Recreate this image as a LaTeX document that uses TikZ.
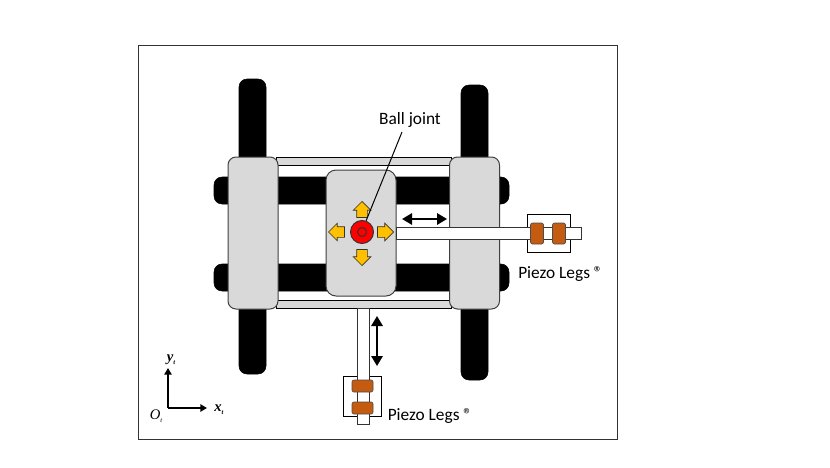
\documentclass[tikz,border=0pt]{standalone}
\usepackage{fontspec}
\setmainfont{Carlito}
\newfontfamily\axisfont{Liberation Serif}
\usetikzlibrary{arrows.meta,shapes.arrows}
\newlength\px
\setlength\px{0.75pt}
\definecolor{blockgrey}{HTML}{D9D9D9}
\definecolor{legorange}{HTML}{C55A11}
\definecolor{pushyellow}{HTML}{FFC000}

\begin{document}
\begin{tikzpicture}[x=0.75pt,y=-0.75pt,
  frame/.style={draw=black!80,line width=0.75pt,fill=white,inner sep=0pt},
  blackbar/.style={draw=black,fill=black,rounded corners=8\px,inner sep=0pt},
  rail/.style={draw=black,line width=0.75pt,fill=blockgrey,inner sep=0pt},
  block/.style={draw=black!75,line width=0.75pt,fill=blockgrey,rounded corners=8\px,inner sep=0pt},
  rod/.style={draw=black!80,line width=0.75pt,fill=white,inner sep=0pt},
  legbox/.style={draw=black,line width=0.75pt,fill=white,inner sep=0pt},
  leg/.style={draw=black!70,line width=0.5pt,fill=legorange,rounded corners=2\px,inner sep=0pt},
  push/.style={single arrow,draw=black!80,line width=0.5pt,fill=pushyellow,inner xsep=0pt,inner ysep=5\px,
    minimum width=17\px,minimum height=16\px,single arrow head extend=3.5\px,
    single arrow head indent=0pt,anchor=tip},
  label/.style={font=\fontsize{13}{15}\selectfont,inner sep=0pt},
  axislabel/.style={font=\axisfont\bfseries\itshape\fontsize{11}{12}\selectfont,inner sep=0pt},
  dblarrow/.style={{Triangle[length=7.5pt,width=8.5pt]}-{Triangle[length=7.5pt,width=8.5pt]},line width=1.5pt},
  axisarrow/.style={-{Triangle[length=5pt,width=5.5pt]},line width=1.5pt}]

  \useasboundingbox (0,0) rectangle (830,467);

  \node[frame,minimum width=479\px,minimum height=393\px] (frame) at (377.5,242.5) {};

  % carriage bars
  \node[blackbar,minimum width=27\px,minimum height=295\px] (barL) at (252.5,226.5) {};
  \node[blackbar,minimum width=27\px,minimum height=295\px] (barR) at (474.5,232.5) {};
  \node[blackbar,minimum width=295\px,minimum height=27\px] (barT) at (361.5,190.5) {};
  \node[blackbar,minimum width=295\px,minimum height=27\px] (barB) at (361.5,277.5) {};

  \node[rail,minimum width=175\px,minimum height=8\px] (railT) at (364,161) {};
  \node[rail,minimum width=175\px,minimum height=8\px] (railB) at (364,304) {};
  \node[block,minimum width=50\px,minimum height=152\px] (blockL) at (253,233) {};
  \node[block,minimum width=50\px,minimum height=152\px] (blockR) at (474.5,233) {};
  \node[block,rounded corners=10\px,minimum width=70\px,minimum height=126\px] (stage) at (361,233) {};

  % piezo on the right
  \node[legbox,minimum width=43\px,minimum height=38\px] (boxR) at (548.5,233) {};
  \node[rod,minimum width=185\px,minimum height=12\px] (rodR) at (488.5,233) {};
  \node[leg,minimum width=13\px,minimum height=21\px] (legR1) at (537,233.5) {};
  \node[leg,minimum width=13\px,minimum height=21\px] (legR2) at (559,233.5) {};
  \node[label] (piezoR) at (560.5,274) {Piezo Legs ®};

  % piezo below
  \node[legbox,minimum width=38\px,minimum height=40\px] (boxB) at (362,396) {};
  \node[rod,minimum width=12\px,minimum height=116\px] (rodB) at (363,366) {};
  \node[leg,minimum width=21\px,minimum height=12\px] (legB1) at (362.5,386) {};
  \node[leg,minimum width=21\px,minimum height=12\px] (legB2) at (362.5,408) {};
  \node[label] (piezoB) at (430,416) {Piezo Legs ®};

  % ball joint
  \node[draw=black!80,line width=0.75pt,fill=red,circle,minimum size=23\px,inner sep=0pt] (ball) at (362,232) {};
  \node[draw=black!80,line width=0.75pt,circle,minimum size=9\px,inner sep=0pt] (ballin) at (362,232) {};
  \node[push,rotate=90] (pushU) at (362,201) {};
  \node[push,rotate=180] (pushL) at (328,232) {};
  \node[push] (pushR) at (394,232) {};
  \node[push,rotate=-90] (pushD) at (362,266) {};
  \node[label] (joint) at (410,119.5) {Ball joint};
  \coordinate (jointtip) at (402,132);
  \draw[line width=0.75pt] (jointtip) -- (ball.70);

  % travel
  \coordinate (travelL) at (402,219);
  \coordinate (travelR) at (447,219);
  \coordinate (travelT) at (377,316);
  \coordinate (travelB) at (377,366);
  \draw[dblarrow] (travelL) -- (travelR);
  \draw[dblarrow] (travelT) -- (travelB);

  % axes
  \coordinate (origin) at (168,408);
  \coordinate (xtip) at (207,408);
  \coordinate (ytip) at (168,368);
  \draw[axisarrow] (origin) -- (xtip);
  \draw[axisarrow] (origin) -- (ytip);
  \node[axislabel] (xlabel) at (219,410) {x\raisebox{-0.4ex}{\fontsize{5}{6}\selectfont t}};
  \node[axislabel] (ylabel) at (171,360) {y\raisebox{-0.4ex}{\fontsize{5}{6}\selectfont t}};
  \node[axislabel,font=\axisfont\itshape\fontsize{11}{12}\selectfont] (olabel) at (156,416) {O\raisebox{-0.4ex}{\fontsize{5}{6}\selectfont t}};
\end{tikzpicture}
\end{document}
